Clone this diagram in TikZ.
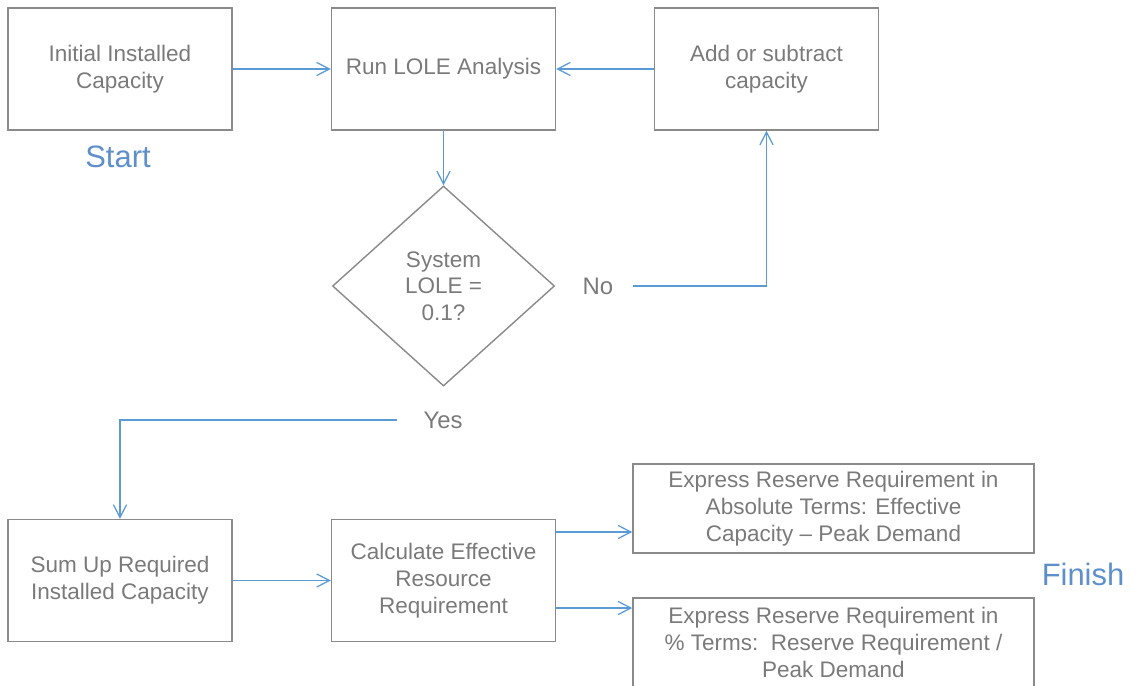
\documentclass[tikz,border=0pt]{standalone}
\usepackage{fontspec}
\setmainfont{Liberation Sans}
\usetikzlibrary{shapes.geometric,arrows.meta}
\definecolor{boxgray}{HTML}{8A8A8A}
\definecolor{txtgray}{HTML}{7A7A7A}
\definecolor{linkblue}{HTML}{5B9BD5}
\definecolor{tagblue}{HTML}{5E8FCA}
\begin{document}
\begin{tikzpicture}[x=0.025cm,y=-0.025cm,
    box/.style={draw=boxgray,line width=1pt,text=txtgray,align=center,
      font=\fontsize{16}{19}\selectfont,inner sep=2pt},
    bigbox/.style={box,minimum width=5.6cm,minimum height=3.05cm},
    widebox/.style={box,minimum width=10.025cm,minimum height=2.225cm},
    choice/.style={box,diamond,minimum width=5.55cm,minimum height=5cm},
    tag/.style={text=tagblue,font=\fontsize{22}{26}\selectfont},
    answer/.style={text=txtgray,font=\fontsize{17}{20}\selectfont},
    link/.style={draw=linkblue,line width=0.9pt,-{Straight Barb[length=3.2mm,width=3.3mm]}}]
    \useasboundingbox (0,0) rectangle (1131,685);
    \node[bigbox] (init) at (120,69) {Initial Installed\\Capacity};
    \node[bigbox] (run) at (443.5,69) {Run LOLE Analysis};
    \node[bigbox] (adjust) at (766.5,69) {Add or subtract\\capacity};
    \node[tag] (start) at (118,157) {Start};
    \node[choice] (check) at (443.5,286) {System\\LOLE =\\0.1?};
    \node[answer] (no) at (598,286) {No};
    \node[answer] (yes) at (443,420) {Yes};
    \node[bigbox] (sum) at (120,580.5) {Sum Up Required\\Installed Capacity};
    \node[bigbox] (calc) at (443.5,580.5) {Calculate Effective\\Resource\\Requirement};
    \node[widebox] (absolute) at (833.5,508.5) {Express Reserve Requirement in\\Absolute Terms: Effective\\Capacity -- Peak Demand};
    \node[widebox] (percent) at (833.5,642.5) {Express Reserve Requirement in\\\% Terms:\ \ Reserve Requirement /\\Peak Demand};
    \node[tag] (finish) at (1083,574) {Finish};
    \coordinate (nostart) at (633,286);
    \coordinate (yesstart) at (397,420);
    % links
    \draw[link] (init.east) -- (run.west);
    \draw[link] (adjust.west) -- (run.east);
    \draw[link] (run.south) -- (check.north);
    \draw[link] (nostart) -| (adjust.south);
    \draw[link] (yesstart) -| (sum.north);
    \draw[link] (sum.east) -- (calc.west);
    \draw[link] ([yshift=1.2125cm]calc.east) -- ([yshift=1.2125cm]calc.east -| absolute.west);
    \draw[link] ([yshift=-0.6875cm]calc.east) -- ([yshift=-0.6875cm]calc.east -| percent.west);
\end{tikzpicture}
\end{document}
